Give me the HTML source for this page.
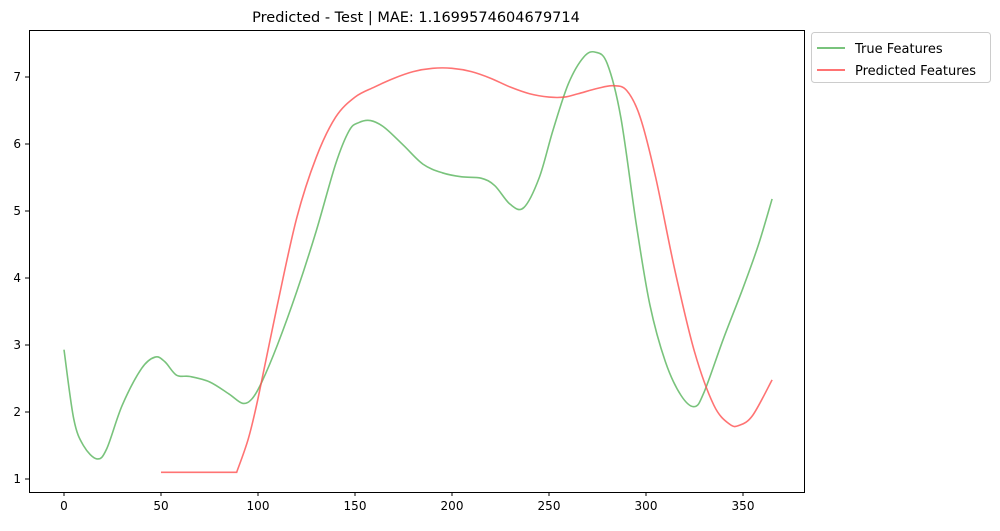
<!DOCTYPE html>
<html><head><meta charset="utf-8"><style>
body{margin:0;background:#fff;width:1000px;height:526px;overflow:hidden;font-family:"Liberation Sans","DejaVu Sans",sans-serif}
</style></head><body>
<svg id="chart" width="1000" height="526" xmlns="http://www.w3.org/2000/svg">
<text x="416" y="22" text-anchor="middle" font-size="14.5" font-family="DejaVu Sans, sans-serif">Predicted - Test | MAE: 1.1699574604679714</text>
<g id="plot"></g>
<rect x="29.5" y="30.5" width="775" height="462" fill="none" stroke="#000" stroke-width="1"/>
<g>
<rect x="811.5" y="32.5" width="179" height="50" rx="3" fill="#fff" stroke="#ccc"/>
<line x1="817" y1="48" x2="845" y2="48" stroke="#4caf50" stroke-opacity="0.75" stroke-width="2"/>
<text x="855" y="53" font-size="13" font-family="DejaVu Sans, sans-serif">True Features</text>
<line x1="817" y1="70" x2="845" y2="70" stroke="#ff5050" stroke-opacity="0.8" stroke-width="2"/>
<text x="855" y="75" font-size="13" font-family="DejaVu Sans, sans-serif">Predicted Features</text>
</g>
</svg>
<script>
const xTicks=[0,50,100,150,200,250,300,350];
const yTicks=[1,2,3,4,5,6,7];
const trueX=[0,5,10,17,22,30,40,47,52,58,65,75,85,92,97,102,110,120,130,140,147,152,158,165,175,185,195,205,215,222,230,237,245,252,260,268,274,280,287,295,302,310,318,325,330,340,350,358,365];
const trueY=[2.93,1.9,1.5,1.3,1.45,2.1,2.65,2.82,2.75,2.55,2.53,2.45,2.27,2.13,2.2,2.45,3.0,3.8,4.7,5.7,6.2,6.32,6.35,6.25,5.98,5.7,5.57,5.51,5.49,5.38,5.1,5.05,5.5,6.2,6.9,7.3,7.37,7.2,6.4,4.8,3.6,2.75,2.25,2.08,2.3,3.1,3.85,4.5,5.18];
const predFlatX=[50,89];
const predFlatY=[1.1,1.1];
const predX=[89,95,100,110,120,130,140,150,160,170,180,190,200,210,220,230,240,250,258,265,275,283,290,297,305,315,325,335,343,348,355,365];
const predY=[1.1,1.6,2.2,3.6,4.9,5.8,6.4,6.7,6.85,6.98,7.08,7.13,7.13,7.08,6.98,6.85,6.75,6.7,6.7,6.75,6.83,6.87,6.8,6.4,5.5,4.1,2.9,2.1,1.82,1.8,1.95,2.48];
const sx=v=>64+v*(679/350);
const sy=v=>479-(v-1)*67;
const NS="http://www.w3.org/2000/svg";
const g=document.getElementById('plot');
function el(t,a){const e=document.createElementNS(NS,t);for(const k in a)e.setAttribute(k,a[k]);g.appendChild(e);return e;}
xTicks.forEach(t=>{
 const l=el('line',{x1:sx(t),x2:sx(t),y1:492,y2:496,stroke:'#000'});
 
 
 const tx=el('text',{x:sx(t),y:510,'text-anchor':'middle','font-size':'12','font-family':'DejaVu Sans, sans-serif'});
 tx.textContent=t;
 
 
});
yTicks.forEach(t=>{
 const l=el('line',{x1:25,x2:29,y1:sy(t),y2:sy(t),stroke:'#000'});
 
 
 const tx=el('text',{x:21,y:sy(t)+4,'text-anchor':'end','font-size':'12','font-family':'DejaVu Sans, sans-serif'});
 tx.textContent=t;
 
 
});
function path(xs,ys,startStraight){
 const p=xs.map((x,i)=>[sx(x),sy(ys[i])]);
 let d='M'+p[0][0]+','+p[0][1];
 for(let i=0;i<p.length-1;i++){
  const p0=(startStraight&&i===0)?p[0]:(p[i-1]||p[i]),p1=p[i],p2=p[i+1],p3=p[i+2]||p2;
  const c1=[p1[0]+(p2[0]-p0[0])/6,p1[1]+(p2[1]-p0[1])/6];
  const c2=[p2[0]-(p3[0]-p1[0])/6,p2[1]-(p3[1]-p1[1])/6];
  d+=' C'+c1+' '+c2+' '+p2;
 }
 return d;
}
const t=el('path',{d:path(trueX,trueY),fill:'none',stroke:'#4caf50','stroke-opacity':0.75,'stroke-width':1.6});


const flatD='M'+sx(predFlatX[0])+','+sy(predFlatY[0])+' L'+sx(predFlatX[1])+','+sy(predFlatY[1]);
const p=el('path',{d:flatD+' '+path(predX,predY,true).replace(/^M[^ ]+/,''),fill:'none',stroke:'#ff5050','stroke-opacity':0.8,'stroke-width':1.6});


</script>
</body></html>
